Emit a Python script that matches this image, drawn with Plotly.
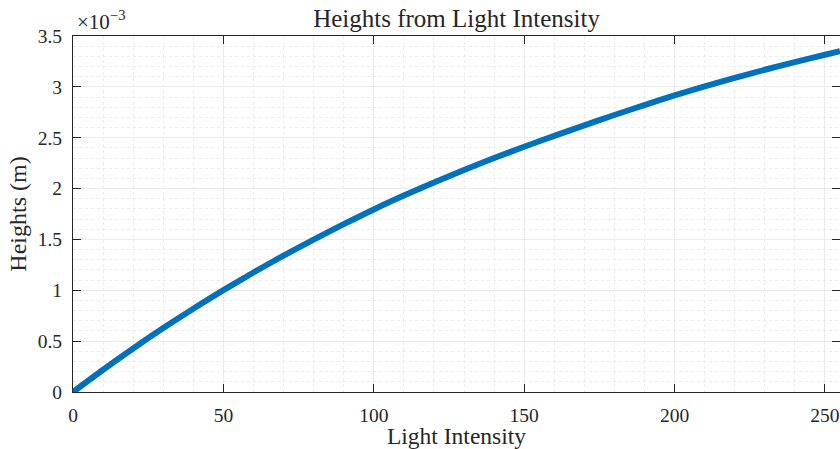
import plotly.graph_objects as go

# Data
light_intensity = [0, 10, 20, 30, 40, 50, 60, 70, 80, 90, 100, 110, 120, 130,
                   140, 150, 160, 170, 180, 190, 200, 210, 220, 230, 240, 250, 255]
heights_mm = [0.0, 0.219, 0.428, 0.628, 0.819, 1.001, 1.175, 1.341, 1.499, 1.650,
              1.795, 1.931, 2.060, 2.183, 2.300, 2.411, 2.518, 2.622, 2.723, 2.821,
              2.916, 3.004, 3.088, 3.168, 3.244, 3.316, 3.350]
heights_m = [h * 1e-3 for h in heights_mm]

ytick_vals = [0, 0.5e-3, 1e-3, 1.5e-3, 2e-3, 2.5e-3, 3e-3, 3.5e-3]
ytick_text = ["0", "0.5", "1", "1.5", "2", "2.5", "3", "3.5"]
xtick_vals = [0, 50, 100, 150, 200, 250]

FONT = "Liberation Serif"
TXT = "#262626"

fig = go.Figure()
fig.add_trace(go.Scatter(
    x=light_intensity, y=heights_m, mode="lines",
    line=dict(color="#0072BD", width=6, shape="spline", smoothing=0.8),
    showlegend=False, hoverinfo="skip"))
fig.add_trace(go.Scatter(
    x=light_intensity[:1], y=heights_m[:1], mode="markers",
    marker=dict(color="#0072BD", size=7),
    showlegend=False, hoverinfo="skip"))

axis_common = dict(
    showline=True, linecolor=TXT, linewidth=1, mirror="ticks",
    ticks="inside", ticklen=8, tickcolor=TXT, tickwidth=1,
    showgrid=True, gridcolor="#ebebeb", gridwidth=1,
    zeroline=False,
    tickfont=dict(family=FONT, size=19.5, color=TXT),
)

fig.update_xaxes(
    range=[0, 255], tickvals=xtick_vals,
    title=dict(text="Light Intensity", font=dict(family=FONT, size=23.5, color=TXT), standoff=4),
    minor=dict(dtick=10, tick0=0, showgrid=True, gridcolor="#ececec", griddash="dot", gridwidth=1, ticks=""),
    ticklabelstandoff=6,
    **axis_common)
fig.update_yaxes(
    range=[0, 3.5e-3], tickvals=ytick_vals, ticktext=ytick_text,
    title=dict(text="Heights (m)", font=dict(family=FONT, size=24, color=TXT), standoff=4),
    minor=dict(dtick=0.1e-3, tick0=0, showgrid=True, gridcolor="#ececec", griddash="dot", gridwidth=1, ticks=""),
    ticklabelstandoff=6,
    **axis_common)

fig.add_annotation(
    xref="paper", yref="paper", x=0.003, y=1.0, xanchor="left", yanchor="bottom",
    text="×10<sup>−3</sup>", showarrow=False, yshift=0,
    font=dict(family=FONT, size=21, color=TXT))

fig.update_layout(
    width=840, height=449,
    margin=dict(l=73, r=0, t=36, b=57),
    paper_bgcolor="white", plot_bgcolor="white",
    title=dict(text="Heights from Light Intensity", x=0.5435, xanchor="center",
               y=1 - 18 / 449, yanchor="middle",
               font=dict(family=FONT, size=25, color=TXT)),
)

fig.write_html("out.html")
